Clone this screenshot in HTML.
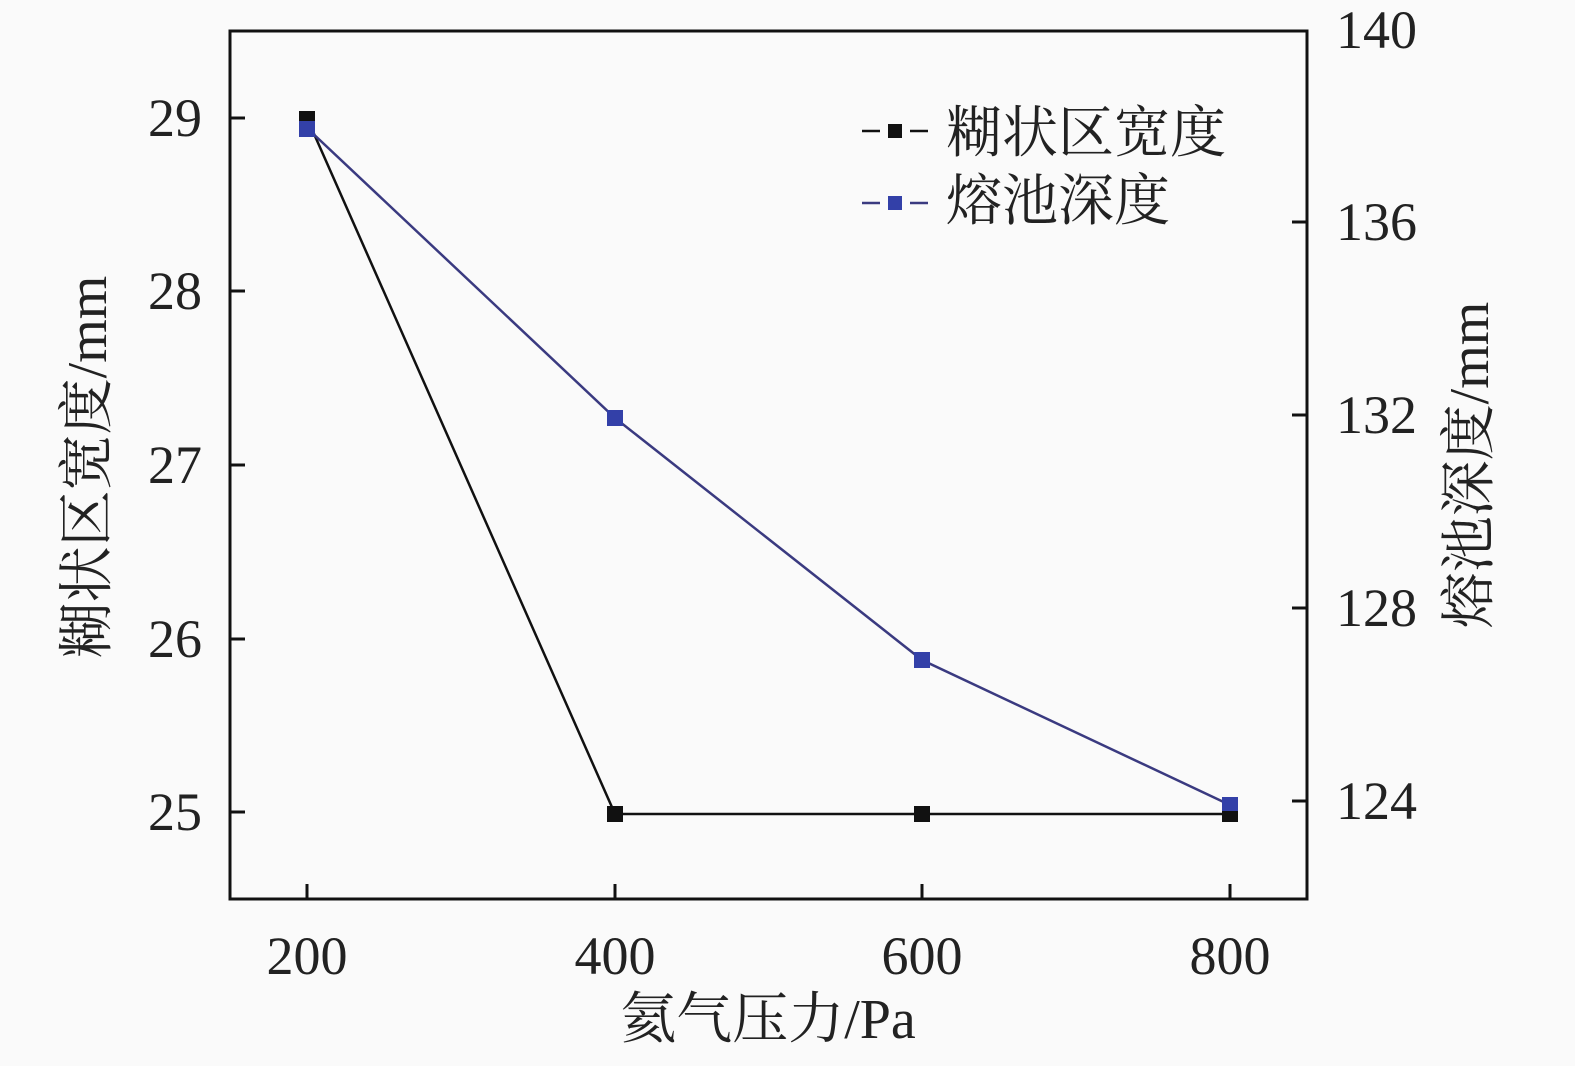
<!DOCTYPE html>
<html><head><meta charset="utf-8"><style>
html,body{margin:0;padding:0;background:#fafafa;}
svg text{font-family:"Liberation Serif","Noto Serif CJK SC",serif;fill:#222;}
</style></head><body>
<svg width="1575" height="1061" viewBox="0 0 1575 1061" xmlns="http://www.w3.org/2000/svg">
<rect width="1575" height="1061" fill="#fafafa"/>
<rect x="230" y="31" width="1077" height="868" fill="none" stroke="#111" stroke-width="3"/>
<g stroke="#111" stroke-width="3">
<line x1="230" y1="118" x2="245" y2="118"/>
<line x1="230" y1="291" x2="245" y2="291"/>
<line x1="230" y1="465" x2="245" y2="465"/>
<line x1="230" y1="639" x2="245" y2="639"/>
<line x1="230" y1="812" x2="245" y2="812"/>
<line x1="1307" y1="222" x2="1292" y2="222"/>
<line x1="1307" y1="415" x2="1292" y2="415"/>
<line x1="1307" y1="608" x2="1292" y2="608"/>
<line x1="1307" y1="801" x2="1292" y2="801"/>
<line x1="307" y1="899" x2="307" y2="884"/>
<line x1="615" y1="899" x2="615" y2="884"/>
<line x1="922" y1="899" x2="922" y2="884"/>
<line x1="1230" y1="899" x2="1230" y2="884"/>
</g>
<g font-size="54" text-anchor="end">
<text x="202" y="136">29</text>
<text x="202" y="309">28</text>
<text x="202" y="483">27</text>
<text x="202" y="657">26</text>
<text x="202" y="830">25</text>
</g>
<g font-size="54" text-anchor="start">
<text x="1336" y="48">140</text>
<text x="1336" y="240">136</text>
<text x="1336" y="433">132</text>
<text x="1336" y="626">128</text>
<text x="1336" y="819">124</text>
</g>
<g font-size="54" text-anchor="middle">
<text x="307" y="974">200</text>
<text x="615" y="974">400</text>
<text x="922" y="974">600</text>
<text x="1230" y="974">800</text>
</g>
<text x="768" y="1038" font-size="56" text-anchor="middle">氦气压力/Pa</text>
<text font-size="56" text-anchor="middle" transform="translate(106,467) rotate(-90)">糊状区宽度/mm</text>
<text font-size="56" text-anchor="middle" transform="translate(1488,465) rotate(-90)">熔池深度/mm</text>
<polyline points="307,118 615,814 922,814 1230,814" fill="none" stroke="#111" stroke-width="2.5"/>
<polyline points="307,128 615,418 922,660 1230,805" fill="none" stroke="#3a3a80" stroke-width="2.5"/>
<g fill="#111">
<rect x="299" y="111" width="16" height="16"/>
<rect x="607" y="806" width="16" height="16"/>
<rect x="914" y="806" width="16" height="16"/>
<rect x="1222" y="806" width="16" height="16"/>
</g>
<g fill="#3340a8">
<rect x="299" y="121" width="16" height="16"/>
<rect x="607" y="410" width="16" height="16"/>
<rect x="914" y="652" width="16" height="16"/>
<rect x="1222" y="797" width="16" height="14"/>
</g>
<g stroke-width="2.5">
<line x1="862" y1="131" x2="880" y2="131" stroke="#111"/>
<line x1="910" y1="131" x2="928" y2="131" stroke="#111"/>
<line x1="862" y1="203" x2="880" y2="203" stroke="#3a3a80"/>
<line x1="910" y1="203" x2="928" y2="203" stroke="#3a3a80"/>
</g>
<rect x="888" y="124" width="14" height="14" fill="#111"/>
<rect x="888" y="196" width="14" height="14" fill="#3340a8"/>
<g font-size="56">
<text x="946" y="152">糊状区宽度</text>
<text x="946" y="220">熔池深度</text>
</g>
</svg>
</body></html>
